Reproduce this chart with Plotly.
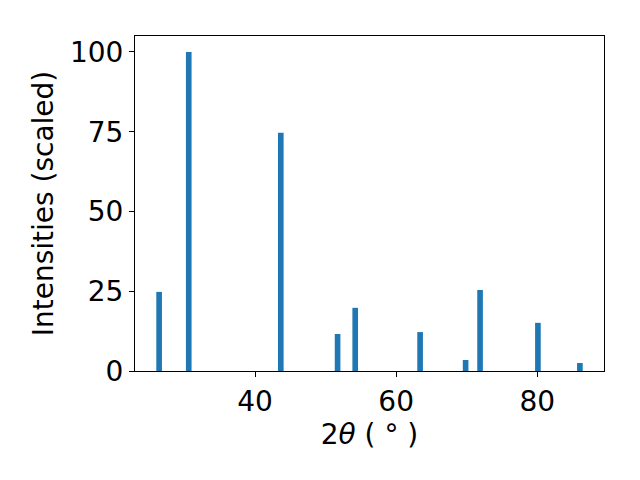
import plotly.graph_objects as go

two_theta = [26.4, 30.6, 43.65, 51.7, 54.2, 63.4, 69.85, 71.9, 80.1, 86.05]
intensity = [24.8, 100.0, 74.7, 11.6, 19.8, 12.2, 3.45, 25.4, 15.1, 2.5]
x_ticks = [40, 60, 80]
y_ticks = [0, 25, 50, 75, 100]

fig = go.Figure()
fig.add_trace(go.Bar(x=two_theta, y=intensity, width=0.8,
                     marker=dict(color="#1f77b4", line=dict(width=0))))

font = dict(family="DejaVu Sans", size=28, color="black")
axis_common = dict(showline=True, linecolor="black", linewidth=1.1, mirror=True,
                   ticks="outside", ticklen=5, tickwidth=1.1, tickcolor="black",
                   showgrid=False, zeroline=False, tickfont=font, automargin=False)

fig.update_layout(
    width=640, height=480,
    margin=dict(l=135, r=36, t=36, b=109),
    paper_bgcolor="white", plot_bgcolor="white",
    showlegend=False,
    font=font,
    xaxis=dict(range=[22.98, 89.47], tickvals=x_ticks,
               title=dict(text="2<i>θ</i> ( ° )", font=font, standoff=4),
               **axis_common),
    yaxis=dict(range=[0, 105], tickvals=y_ticks,
               title=dict(text="Intensities (scaled)", font=font, standoff=8),
               **axis_common),
)

fig.write_html("out.html", config={"displayModeBar": False},
               post_script="document.body.style.margin='0';")
